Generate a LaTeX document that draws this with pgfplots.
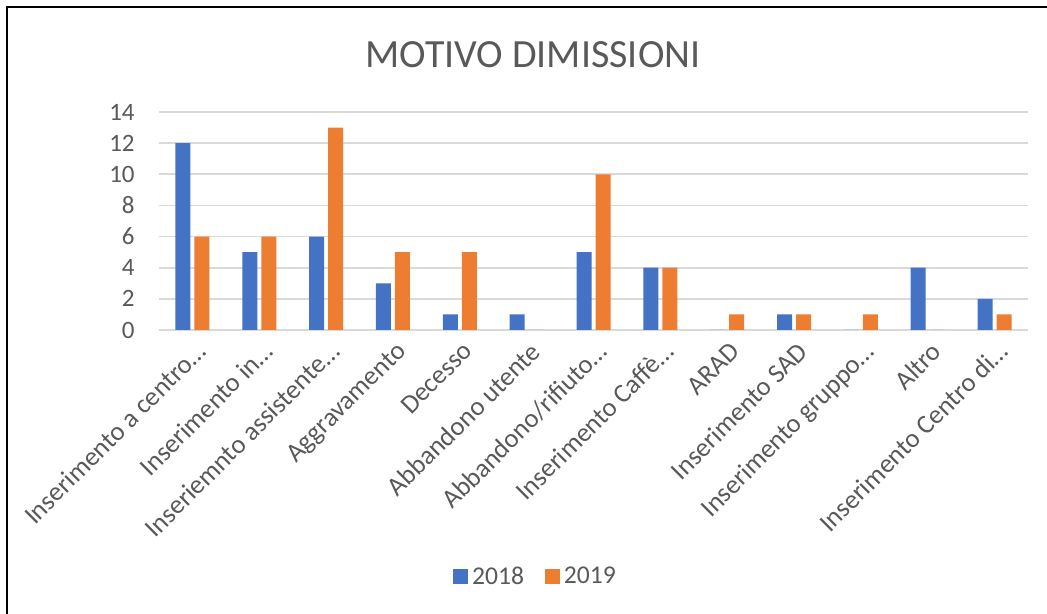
\documentclass[border=0pt]{standalone}
\usepackage{pgfplots}
\pgfplotsset{compat=1.18}
\usepackage{fontspec}
\setmainfont{Carlito}
\definecolor{cblue}{HTML}{4472C4}
\definecolor{corange}{HTML}{ED7D31}
\definecolor{txt}{HTML}{595959}
\definecolor{gridc}{HTML}{D9D9D9}
\begin{document}
\begin{tikzpicture}
\useasboundingbox (-79.5pt,-142pt) rectangle (444pt,165pt);
\draw[line width=1.4pt] (-76pt,-143pt) -- (-76pt,161.5pt) -- (445pt,161.5pt);
\node[text=txt, font=\fontsize{20}{24}\selectfont, anchor=center] at (187pt,137.5pt) {MOTIVO DIMISSIONI};
\begin{axis}[
  at={(0,0)}, anchor=south west,
  scale only axis, width=434.5pt, height=109pt,
  xmin=-0.5, xmax=12.5, ymin=0, ymax=14,
  ybar=2pt, bar width=7.5pt,
  axis line style={draw=none},
  ytick={0,2,...,14},
  ymajorgrids, grid style={gridc, line width=0.9pt},
  major tick length=0pt,
  xtick={0,...,12},
  xticklabels={
    {Inserimento a centro…\hspace{-9pt}},
    {Inserimento in…\hspace{-9pt}},
    {Inseriemnto assistente…\hspace{-9pt}},
    {Aggravamento},
    {Decesso},
    {Abbandono utente},
    {Abbandono/rifiuto…\hspace{-9pt}},
    {Inserimento Caffè…\hspace{-9pt}},
    {ARAD},
    {Inserimento SAD},
    {Inserimento gruppo…\hspace{-9pt}},
    {Altro},
    {Inserimento Centro di…\hspace{-9pt}}},
  ticklabel style={font=\fontsize{12.5}{15}\selectfont, text=txt},
  xticklabel style={font=\fontsize{13.3}{16}\selectfont, yshift=-5pt, xshift=1pt, rotate=45, anchor=north east, inner sep=0pt},
  yticklabel style={anchor=east, inner sep=0pt, xshift=-12pt},
  /pgf/number format/assume math mode=true,
  legend columns=2,
  legend style={draw=none, fill=none, at={(axis description cs:0.4344,-1.133)}, anchor=center,
    font=\fontsize{12.8}{15}\selectfont, text=txt, inner sep=0pt,
    /tikz/every even column/.style={column sep=8.5pt}},
  legend image code/.code={\fill[#1,draw=none] (0pt,-3.75pt) rectangle (7.5pt,3.75pt);},
]
\addplot[fill=cblue, draw=none] coordinates {
  (0,12) (1,5) (2,6) (3,3) (4,1) (5,1) (6,5) (7,4) (8,0) (9,1) (10,0) (11,4) (12,2)};
\addplot[fill=corange, draw=none] coordinates {
  (0,6) (1,6) (2,13) (3,5) (4,5) (5,0) (6,10) (7,4) (8,1) (9,1) (10,1) (11,0) (12,1)};
\legend{2018,2019}
\end{axis}
\end{tikzpicture}
\end{document}
